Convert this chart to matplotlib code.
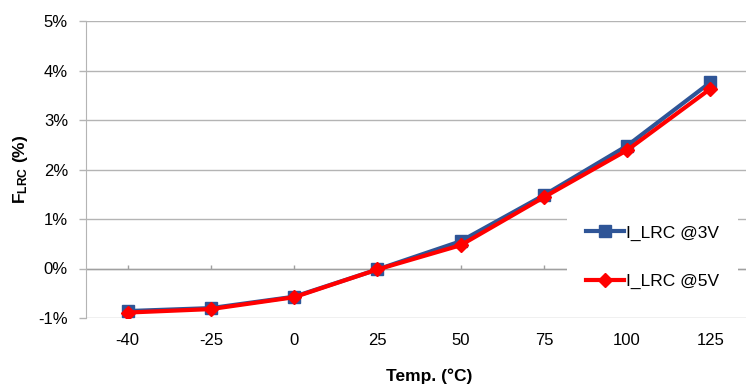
import matplotlib
matplotlib.use("Agg")
import matplotlib.pyplot as plt
from matplotlib.ticker import FuncFormatter

plt.rcParams['font.family'] = ['Liberation Sans', 'DejaVu Sans']
plt.rcParams['mathtext.fontset'] = 'custom'
plt.rcParams['mathtext.rm'] = 'Liberation Sans'
plt.rcParams['mathtext.bf'] = 'Liberation Sans:bold'

temps = ['-40', '-25', '0', '25', '50', '75', '100', '125']
lrc_3v = [-0.86, -0.80, -0.57, -0.02, 0.55, 1.48, 2.48, 3.76]
lrc_5v = [-0.89, -0.82, -0.58, -0.02, 0.47, 1.44, 2.39, 3.63]

fig = plt.figure(figsize=(7.46, 3.86), dpi=100)
ax = fig.add_axes([86 / 746, 68 / 386, 666 / 746, 297 / 386])

x = list(range(len(temps)))
ax.plot(x, lrc_3v, color='#2f5597', lw=3, marker='s', ms=8, label='I_LRC @3V', zorder=3)
ax.plot(x, lrc_5v, color='#ff0000', lw=3, marker='D', ms=7, label='I_LRC @5V', zorder=4)

ax.set_xlim(-0.5, len(temps) - 0.5)
ax.set_ylim(-1, 5)
ax.set_yticks(range(-1, 6))
ax.yaxis.set_major_formatter(FuncFormatter(lambda v, p: '%d%%' % v))
ax.grid(axis='y', color='#b4b4b4', lw=1)
ax.set_xticks(x)
ax.set_xticklabels(temps)
ax.tick_params(axis='x', length=0, pad=11, labelsize=12)
ax.tick_params(axis='y', length=5, width=1, color='#b4b4b4', pad=8, labelsize=12)
for s in ['top', 'right', 'bottom']:
    ax.spines[s].set_visible(False)
ax.spines['left'].set_color('#b4b4b4')

# category axis crossing at 0%
ax.axhline(0, color='#a0a0a0', lw=1, zorder=2)
ax.vlines(x, 0, 0.08, color='#a0a0a0', lw=1, zorder=2)

ax.set_ylabel(r'$\mathbf{F_{LRC}}$ $\mathbf{(\%)}$', fontsize=12.5, labelpad=6)
fig.text(429 / 746, 1 - 376 / 386, 'Temp. (°C)', fontsize=12.5, fontweight='bold',
         ha='center', va='center')

leg = ax.legend(loc='center left', bbox_to_anchor=(0.722, 0.205), frameon=True,
                fancybox=False, edgecolor='none', facecolor='white', framealpha=1,
                fontsize=12.5, handlelength=2.2, handletextpad=0.1,
                labelspacing=1.9, borderpad=1.1, borderaxespad=0)
leg.set_zorder(5)

fig.savefig('out.png', dpi=100)
